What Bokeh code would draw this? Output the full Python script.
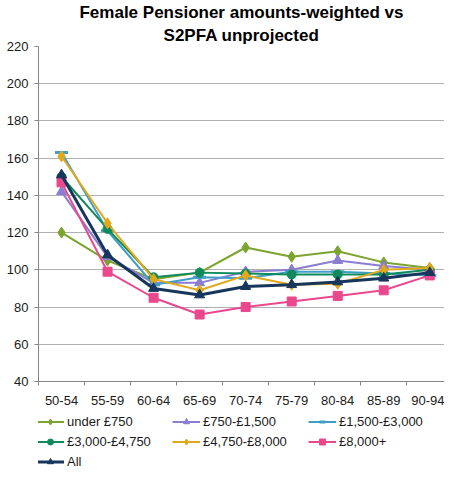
from bokeh.plotting import figure
from bokeh.layouts import column
from bokeh.models import Range1d, FixedTicker, Legend, LegendItem, Title
from bokeh.embed import file_html
from bokeh.resources import INLINE

categories = ["50-54", "55-59", "60-64", "65-69", "70-74", "75-79", "80-84", "85-89", "90-94"]
under_750 = [120, 105, 95, 98.5, 112, 107, 110, 104, 101]
s750_1500 = [142, 107, 93, 93, 99, 100, 105, 102, 100]
s1500_3000 = [163, 121, 92, 96, 95.5, 99, 99, 98, 97]
s3000_4750 = [150, 122, 96, 98.5, 98, 97.5, 97.5, 97.5, 100]
s4750_8000 = [161, 125, 95, 89, 97, 92, 92.5, 100, 101]
s8000_plus = [147, 99, 85, 76, 80, 83, 86, 89, 97]
all_series = [151, 108, 90, 86.5, 91, 92, 93.5, 95.5, 98.5]
y_ticks = [40, 60, 80, 100, 120, 140, 160, 180, 200, 220]

series = [
    ("under £750", under_750, "#7BA42E", "diamond", 11, 2),
    ("£750-£1,500", s750_1500, "#8A7DD3", "triangle", 10, 2),
    ("£1,500-£3,000", s1500_3000, "#3F9EC6", "dash", 13, 2),
    ("£3,000-£4,750", s3000_4750, "#0F8A5C", "circle", 9, 2),
    ("£4,750-£8,000", s4750_8000, "#E0A81C", "diamond", 11, 2),
    ("£8,000+", s8000_plus, "#E9488D", "square", 9, 2),
    ("All", all_series, "#16365C", "triangle", 10, 3),
]

FONT = "Liberation Sans"
xs = [i + 0.5 for i in range(len(categories))]

p = figure(width=444, height=407, output_backend="svg", toolbar_location=None,
           x_range=Range1d(0, 8.82), y_range=Range1d(40, 220),
           min_border_left=38, min_border_right=0, min_border_top=0, min_border_bottom=0)
p.outline_line_color = None
p.background_fill_color = "white"

p.add_layout(Title(text="S2PFA unprojected", align="center", text_font=FONT,
                   text_font_size="17px", text_font_style="bold", text_color="#000000",
                   standoff=4, offset=0), "above")
p.add_layout(Title(text="Female Pensioner amounts-weighted vs", align="center", text_font=FONT,
                   text_font_size="17px", text_font_style="bold", text_color="#000000",
                   standoff=0, offset=0), "above")

# axes
p.xaxis.ticker = FixedTicker(ticks=xs, minor_ticks=list(range(0, 10)))
p.xaxis.major_label_overrides = {x: c for x, c in zip(xs, categories)}
p.xaxis.major_tick_line_color = None
p.xaxis.minor_tick_in = 0
p.xaxis.minor_tick_out = 4
p.xaxis.minor_tick_line_color = "#868686"
p.xaxis.axis_line_color = "#868686"
p.xaxis.major_label_text_font = FONT
p.xaxis.major_label_text_font_size = "13px"
p.xaxis.major_label_text_color = "#1a1a1a"
p.xaxis.major_label_standoff = 8

p.yaxis.ticker = FixedTicker(ticks=y_ticks)
p.yaxis.minor_tick_line_color = None
p.yaxis.major_tick_in = 0
p.yaxis.major_tick_out = 4
p.yaxis.major_tick_line_color = "#868686"
p.yaxis.axis_line_color = "#868686"
p.yaxis.major_label_text_font = FONT
p.yaxis.major_label_text_font_size = "13px"
p.yaxis.major_label_text_color = "#1a1a1a"
p.yaxis.major_label_standoff = 6

p.xgrid.grid_line_color = None
p.ygrid.grid_line_color = "#B0B0B0"
p.ygrid.grid_line_width = 1

# legend-only figure below the chart (its own copies of the series lie outside its view)
lp = figure(width=444, height=62, output_backend="svg", toolbar_location=None,
            x_range=Range1d(1000, 1001), y_range=Range1d(1000, 1001),
            x_axis_type=None, y_axis_type=None,
            min_border_left=0, min_border_right=0, min_border_top=0, min_border_bottom=0)
lp.outline_line_color = None

items = []
for name, vals, color, marker, size, lw in series:
    p.line(xs, vals, line_color=color, line_width=lw)
    lr = lp.line(xs, vals, line_color=color, line_width=lw)
    if marker == "dash":
        p.scatter(xs, vals, marker="dash", size=size, line_color=color, line_width=3)
        sr = lp.scatter(xs, vals, marker="dash", size=size, line_color=color, line_width=3)
    else:
        p.scatter(xs, vals, marker=marker, size=size, fill_color=color, line_color=color)
        sr = lp.scatter(xs, vals, marker=marker, size=size, fill_color=color, line_color=color)
    items.append(LegendItem(label=name, renderers=[lr, sr]))

legend = Legend(items=items, orientation="horizontal", ncols=3, location=(-2, 0),
                label_text_font=FONT, label_text_font_size="13px", label_text_color="#1a1a1a",
                glyph_width=28, glyph_height=15, label_standoff=3, label_width=100,
                spacing=5, padding=2, margin=0, border_line_color=None,
                background_fill_alpha=0)
lp.add_layout(legend, "center")

layout = column(p, lp, spacing=0)
open("out.html", "w").write(file_html(layout, INLINE))
